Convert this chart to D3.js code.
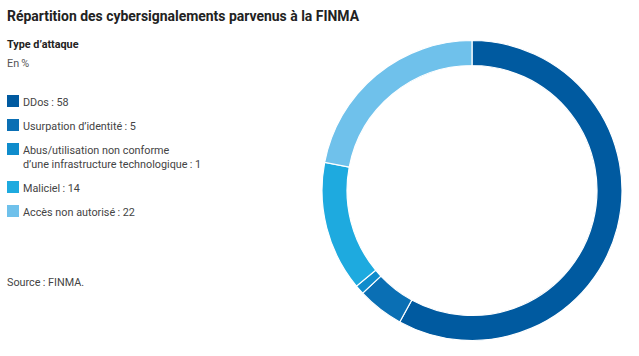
<!DOCTYPE html>
<html><head><meta charset="utf-8">
<script src="https://cdn.jsdelivr.net/npm/d3@7"></script>
<style>
body{margin:0;background:#fff;}
text{font-family:Roboto,"Open Sans",sans-serif;}
</style></head>
<body><svg id="c" width="639" height="356"></svg>
<script>
const categories = ["DDos", "Usurpation d’identité", "Abus/utilisation non conforme|d’une infrastructure technologique", "Maliciel", "Accès non autorisé"];
const values = [58, 5, 1, 14, 22];
const colors = ["#005aa0", "#0a6fb4", "#0f8ccc", "#1eaadf", "#6fc1eb"];

const svg = d3.select("#c");
function squeeze(sel, k) {
  const l = sel.node().getComputedTextLength();
  sel.attr("textLength", l * k).attr("lengthAdjust", "spacingAndGlyphs");
  return sel;
}
const title = svg.append("text").attr("x", 7).attr("y", 20.5).attr("font-size", 15.5).attr("font-weight", 700).attr("fill", "#222")
  .text("Répartition des cybersignalements parvenus à la FINMA");
squeeze(title, 352 / title.node().getComputedTextLength());
const K = 0.94, FS = 11.5;
squeeze(svg.append("text").attr("x", 7).attr("y", 48).attr("font-size", FS).attr("font-weight", 700).attr("fill", "#222").text("Type d’attaque"), K);
squeeze(svg.append("text").attr("x", 7).attr("y", 66.5).attr("font-size", FS).attr("fill", "#555").text("En\u2009%"), K);

const legendY = [95, 119, 143, 181, 205];
const lg = svg.append("g");
categories.forEach((c, i) => {
  lg.append("rect").attr("x", 7).attr("y", legendY[i]).attr("width", 12).attr("height", 12).attr("fill", colors[i]);
  const lines = c.split("|");
  lines.forEach((l, j) => {
    squeeze(lg.append("text").attr("x", 23).attr("y", legendY[i] + 10.5 + j * 14.5).attr("font-size", FS).attr("fill", "#444")
      .text(l + (j === lines.length - 1 ? "\u2009: " + values[i] : "")), K);
  });
});
squeeze(svg.append("text").attr("x", 7).attr("y", 286).attr("font-size", FS).attr("fill", "#444").text("Source\u2009: FINMA."), K);

const pie = d3.pie().sort(null).value(d => d)(values);
const arc = d3.arc().innerRadius(125).outerRadius(150);
svg.append("g").attr("transform", "translate(472,190.5)")
  .selectAll("path").data(pie).join("path")
  .attr("d", arc).attr("fill", (d, i) => colors[i]).attr("stroke", "#fff").attr("stroke-width", 1.2);
</script>
</body></html>
